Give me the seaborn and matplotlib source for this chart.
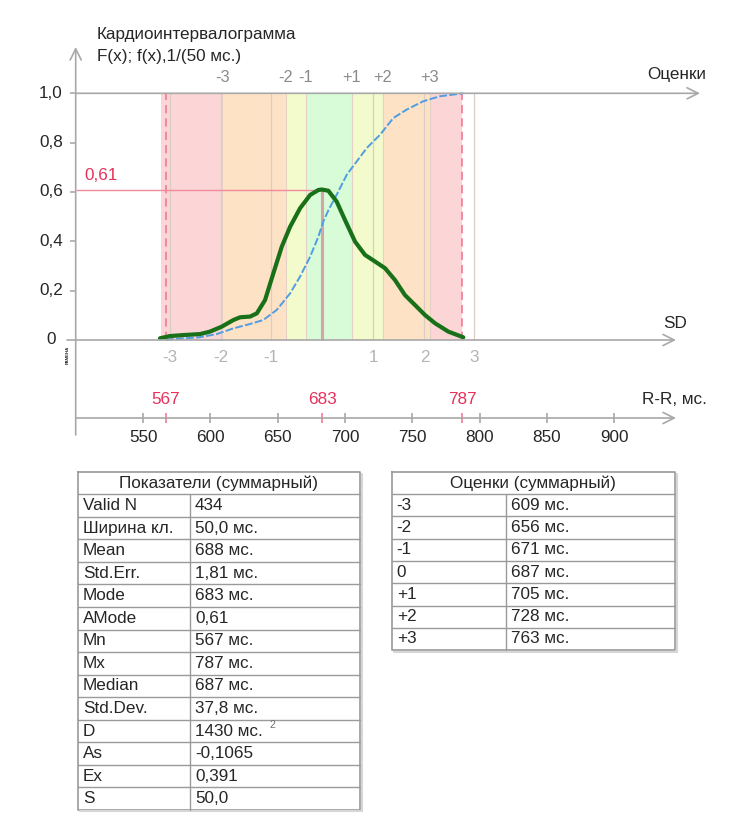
import numpy as np
import pandas as pd
import matplotlib
matplotlib.use("Agg")
import matplotlib.pyplot as plt
import seaborn as sns

# ---------------- data ----------------
title_lines = ["Кардиоинтервалограмма", "F(x); f(x),1/(50 мс.)"]

density_x = [562.6, 570.0, 579.9, 592.3, 599.7, 608.4, 617.1, 622.0, 629.5, 634.5,
             640.6, 646.8, 653.0, 659.2, 666.6, 674.1, 680.2, 682.7, 687.6, 693.8,
             700.0, 707.4, 714.8, 722.3, 729.7, 737.1, 744.5, 751.9, 759.4, 766.8,
             776.7, 787.8]
density_y = [0.007, 0.016, 0.020, 0.024, 0.034, 0.054, 0.081, 0.092, 0.095, 0.108,
             0.162, 0.271, 0.378, 0.459, 0.534, 0.588, 0.608, 0.610, 0.605, 0.561,
             0.486, 0.399, 0.345, 0.318, 0.291, 0.243, 0.182, 0.142, 0.101, 0.068,
             0.034, 0.011]

cdf_x = [567.0, 570.0, 592.0, 604.7, 617.0, 629.5, 639.3, 649.3, 659.2, 666.6,
         674.1, 680.2, 683.9, 688.0, 693.8, 701.3, 708.7, 716.1, 726.0, 735.9,
         745.8, 758.2, 770.5, 787.8]
cdf_y = [0.0, 0.003, 0.011, 0.024, 0.047, 0.065, 0.081, 0.122, 0.189, 0.257,
         0.338, 0.419, 0.481, 0.530, 0.589, 0.670, 0.724, 0.778, 0.832, 0.900,
         0.934, 0.968, 0.988, 1.0]

score_labels = ["-3", "-2", "-1", "+1", "+2", "+3"]
score_values = [609, 656, 671, 705, 728, 763]
band_edges = [563, 609, 656, 671, 705, 728, 763, 787]
band_colors = ["#fcd6d6", "#fde2c6", "#f3fbcc", "#d8fbd8", "#f3fbcc", "#fde2c6", "#fcd6d6"]

sd_labels = ["-3", "-2", "-1", "1", "2", "3"]
sd_values = [570, 608, 645, 721, 759, 796]

rr_ticks = [550, 600, 650, 700, 750, 800, 850, 900]
marker_values = [567, 683, 787]
mode_value = 683
amode_value = 0.61
amode_label = "0,61"

y_ticks = [0.0, 0.2, 0.4, 0.6, 0.8, 1.0]
y_tick_labels = ["0", "0,2", "0,4", "0,6", "0,8", "1,0"]

stats_title = "Показатели (суммарный)"
stats_names = ["Valid N", "Ширина кл.", "Mean", "Std.Err.", "Mode", "AMode", "Mn",
               "Mx", "Median", "Std.Dev.", "D", "As", "Ex", "S"]
stats_values = ["434", "50,0 мс.", "688 мс.", "1,81 мс.", "683 мс.", "0,61", "567 мс.",
                "787 мс.", "687 мс.", "37,8 мс.", "1430 мс.", "-0,1065", "0,391", "50,0"]

scores_title = "Оценки (суммарный)"
scores_names = ["-3", "-2", "-1", "0", "+1", "+2", "+3"]
scores_values = ["609 мс.", "656 мс.", "671 мс.", "687 мс.", "705 мс.", "728 мс.", "763 мс."]

# ---------------- style ----------------
sns.set_style("white")
plt.rcParams["font.family"] = ["Liberation Sans", "DejaVu Sans"]

W, H = 755, 823
fig = plt.figure(figsize=(W / 100, H / 100), dpi=100)

X0PX, PXMS, Y0PX, PXU = 75.7, 1.3467, 340.0, 246.7
FS = 12.3


def px2x(px):
    return 500 + (px - X0PX) / PXMS


def py2y(py):
    return (Y0PX - py) / PXU


TOPH = 460
ax = fig.add_axes([0, 1 - TOPH / H, 1, TOPH / H])
ax.set_xlim(px2x(0), px2x(W))
ax.set_ylim(py2y(TOPH), py2y(0))
ax.axis("off")

GRAY = "#a8a8a8"
PINK = "#e8305a"
TXT = "#262626"

# bands
for a, b, c in zip(band_edges[:-1], band_edges[1:], band_colors):
    ax.fill_betweenx([0, 1], a, b, color=c, lw=0, zorder=0)

ax.vlines(sd_values, 0, 1, color="#d9cdc6", lw=0.9, zorder=1)
ax.vlines(score_values, 0, 1, color="#e4d2c6", lw=0.8, zorder=1)
ax.vlines(marker_values[::2], 0, 1, color="#f27a94", lw=1.2, linestyles=(0, (5, 3)), zorder=2)
ax.vlines(mode_value, 0, amode_value, color="#d6a4a4", lw=2.2, zorder=2)
ax.hlines(amode_value, 500, mode_value, color="#f08a9c", lw=1.0, zorder=2)

# curves
df_d = pd.DataFrame({"x": density_x, "y": density_y})
df_c = pd.DataFrame({"x": cdf_x, "y": cdf_y})
sns.lineplot(data=df_c, x="x", y="y", ax=ax, color="#4f9de2", lw=1.4,
             linestyle=(0, (4, 1.2)), zorder=3)
sns.lineplot(data=df_d, x="x", y="y", ax=ax, color="#187018", lw=3.0, zorder=4,
             solid_joinstyle="round", solid_capstyle="round")
ax.set_xlabel("")
ax.set_ylabel("")
ax.axis("off")

# axes lines with arrows
arrow = dict(arrowstyle="->", color=GRAY, lw=1.2, mutation_scale=20, shrinkA=0, shrinkB=0)
ax.annotate("", xy=(500, py2y(47)), xytext=(500, py2y(435)), arrowprops=arrow, zorder=5)
ax.annotate("", xy=(px2x(700), 1.0), xytext=(500, 1.0), arrowprops=arrow, zorder=5)
ax.annotate("", xy=(px2x(676), 0.0), xytext=(px2x(67), 0.0), arrowprops=arrow, zorder=5)
y_rr = py2y(418)
ax.annotate("", xy=(px2x(676), y_rr), xytext=(500, y_rr), arrowprops=arrow, zorder=5)

# y ticks
ax.hlines(y_ticks[1:], px2x(70), 500, color=GRAY, lw=1.2)
for v, lab in zip(y_ticks, y_tick_labels):
    xx = px2x(56) if v == 0 else px2x(63)
    ax.text(xx, v, lab, ha="right", va="center", fontsize=FS, color=TXT)

# R-R ticks
d = 5 / PXU
ax.vlines(rr_ticks, y_rr - d, y_rr + d, color=GRAY, lw=1.2)
ax.vlines(marker_values, y_rr - d, y_rr + d, color="#f27a94", lw=1.2)
for v in rr_ticks:
    ax.text(v, py2y(438), str(v), ha="center", va="center", fontsize=FS, color=TXT)
for v in marker_values:
    ax.text(v, py2y(399), str(v), ha="center", va="center", fontsize=FS, color=PINK)

# top score labels and SD labels
for v, lab in zip(score_values, score_labels):
    ax.text(v, py2y(78), lab, ha="center", va="center", fontsize=11.8, color="#8a8a8a")
for v, lab in zip(sd_values, sd_labels):
    ax.text(v, py2y(358), lab, ha="center", va="center", fontsize=FS, color="#b4b4b4")

ax.text(px2x(84), amode_value + 0.055, amode_label,
        ha="left", va="center", fontsize=FS, color=PINK)

ax.text(px2x(706), py2y(75), "Оценки", ha="right", va="center", fontsize=FS, color=TXT)
ax.text(px2x(675), py2y(323), "SD", ha="center", va="center", fontsize=FS, color=TXT)
ax.text(px2x(707), py2y(400), "R-R, мс.", ha="right", va="center", fontsize=FS, color=TXT)
ax.text(px2x(68), py2y(355), "РАМЕНА", ha="center", va="center", fontsize=3.2,
        rotation=90, fontweight="bold", color="#222222")

ax.text(px2x(97), py2y(35), title_lines[0], ha="left", va="center", fontsize=FS, color=TXT)
ax.text(px2x(97), py2y(56), title_lines[1], ha="left", va="center", fontsize=FS, color=TXT)

# ---------------- tables ----------------
tx = fig.add_axes([0, 0, 1, 1 - TOPH / H])
tx.set_xlim(0, W)
tx.set_ylim(H, TOPH)
tx.axis("off")

LINE = "#9a9a9a"


def draw_table(x0, x1, xdiv, y0, rowh, title, names, values):
    n = len(names) + 1
    y1 = y0 + n * rowh
    tx.plot([x0, x1, x1, x0, x0], [y0, y0, y1, y1, y0], color=LINE, lw=1.2)
    tx.plot([x1 + 1.5, x1 + 1.5], [y0 + 2, y1 + 1.5], color="#d6d6d6", lw=1.5)
    tx.plot([x0 + 2, x1 + 1.5], [y1 + 1.5, y1 + 1.5], color="#d6d6d6", lw=1.5)
    for i in range(1, n):
        tx.plot([x0, x1], [y0 + i * rowh] * 2, color=LINE, lw=1.0)
    tx.plot([xdiv, xdiv], [y0 + rowh, y1], color=LINE, lw=1.0)
    tx.text((x0 + x1) / 2, y0 + rowh / 2, title, ha="center", va="center",
            fontsize=FS, color=TXT)
    for i, (a, b) in enumerate(zip(names, values)):
        yc = y0 + (i + 1.5) * rowh
        tx.text(x0 + 5, yc, a, ha="left", va="center", fontsize=FS, color=TXT)
        tx.text(xdiv + 5, yc, b, ha="left", va="center", fontsize=FS, color=TXT)


draw_table(77.7, 360, 190, 471.7, 22.55, stats_title, stats_names, stats_values)
draw_table(391.7, 675, 505.7, 471.7, 22.3, scores_title, scores_names, scores_values)

# superscript for D row
d_idx = stats_names.index("D")
tx.text(269, 471.7 + (d_idx + 1.5) * 22.55 - 6, "2", ha="left", va="center",
        fontsize=7.5, color="#707070")

fig.savefig("out.png", dpi=100)
